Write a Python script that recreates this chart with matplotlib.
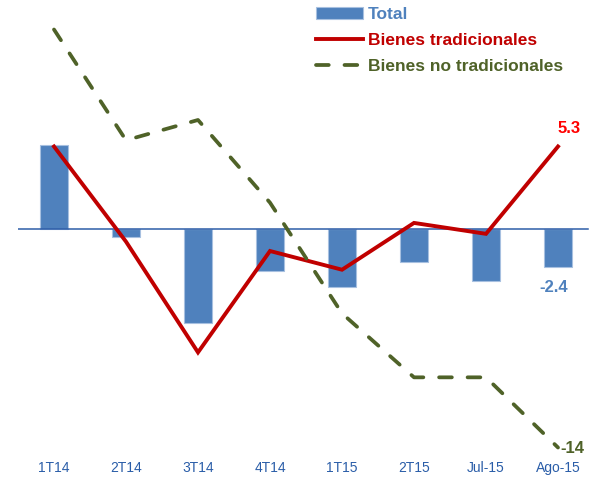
import numpy as np
import matplotlib
matplotlib.use('Agg')
import matplotlib.pyplot as plt

plt.rcParams['font.family'] = ['Liberation Sans', 'DejaVu Sans']

# data
categories = ['1T14', '2T14', '3T14', '4T14', '1T15', '2T15', 'Jul-15', 'Ago-15']
total = [5.4, -0.5, -6.0, -2.7, -3.7, -2.1, -3.3, -2.4]
tradicionales = [5.3, -0.8, -7.9, -1.4, -2.6, 0.4, -0.3, 5.3]
no_tradicionales = [12.8, 5.7, 7.0, 1.7, -5.4, -9.5, -9.5, -14.0]

blue = '#4F81BD'
red = '#C00000'
green = '#4F6228'
tick_blue = '#2A5DA8'

fig = plt.figure(figsize=(5.95, 4.95), dpi=100)
ax = fig.add_axes([18 / 595, 35 / 495, 576 / 595, 457 / 495])

x = np.arange(len(categories))
bars = ax.bar(x, total, width=0.39, color=blue, edgecolor='#A7C0E0', linewidth=0.8,
              label='Total', zorder=2)
ax.axhline(0, xmin=0, xmax=0.99, color='#2E5EA8', lw=1.1, zorder=3)
l1, = ax.plot(x, tradicionales, color=red, lw=2.8, solid_joinstyle='miter',
              label='Bienes tradicionales', zorder=4)
l2, = ax.plot(x, no_tradicionales, color=green, lw=2.7, dashes=(3.4, 4.2),
              dash_capstyle='round', label='Bienes no tradicionales', zorder=4)

# end labels
last = len(categories) - 1
ax.annotate(f'{tradicionales[last]:.1f}', (x[last], tradicionales[last]),
            xytext=(8, 13), textcoords='offset points', ha='center', va='center',
            color='#FF0000', fontsize=12, fontweight='bold')
ax.annotate(f'{total[last]:.1f}', (x[last], total[last]),
            xytext=(-3, -15), textcoords='offset points', ha='center', va='center',
            color=blue, fontsize=12, fontweight='bold')
ax.annotate(f'{no_tradicionales[last]:.0f}', (x[last], no_tradicionales[last]),
            xytext=(2, -1), textcoords='offset points', ha='left', va='center',
            color=green, fontsize=12, fontweight='bold')

ax.set_xlim(-0.5, len(categories) - 0.5)
ax.set_ylim(-14.8, 14.5)
ax.set_xticks(x)
ax.set_xticklabels(categories, fontsize=10, color=tick_blue)
ax.tick_params(axis='x', length=0, pad=1)
ax.set_yticks([])
for s in ax.spines.values():
    s.set_visible(False)

leg = ax.legend([bars, l1, l2], ['Total', 'Bienes tradicionales', 'Bienes no tradicionales'],
                loc='upper left', bbox_to_anchor=(307 / 595, 1 + 2 / 495),
                bbox_transform=fig.transFigure, frameon=False, borderpad=0,
                handlelength=2.7, handletextpad=0.3, labelspacing=0.62,
                prop={'weight': 'bold', 'size': 12.5})
for txt, c in zip(leg.get_texts(), [blue, red, green]):
    txt.set_color(c)

fig.savefig('out.png', dpi=100)
